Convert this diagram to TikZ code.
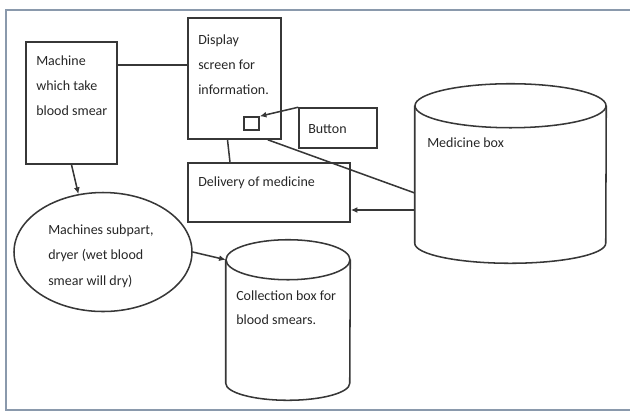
\documentclass[tikz,border=0pt]{standalone}
\usepackage{fontspec}
\setmainfont{Carlito}
\usetikzlibrary{arrows.meta,calc,fit,shapes.geometric}
\definecolor{frameblue}{RGB}{138,153,172}
\definecolor{inkline}{RGB}{55,55,55}
\begin{document}
\begin{tikzpicture}[x=0.75pt,y=-0.75pt,
  shapeline/.style={draw=inkline, line width=1.15pt},
  boxnode/.style={shapeline, rectangle, inner sep=0pt},
  hidden/.style={rectangle, inner sep=0pt},
  lbl/.style={anchor=base west, inner sep=0pt, align=left,
    font=\fontsize{10.5}{18.4}\selectfont, text=black!85},
  conn/.style={draw=inkline, line width=1.15pt},
  arr/.style={conn, -{Latex[length=5pt,width=4.5pt]}},
  frameline/.style={draw=frameblue, line width=2pt}]

\useasboundingbox (0,0) rectangle (630,412);
\draw[frameline] (634,10) -- (6,10) -- (6,410) -- (634,410);

% boxes
\node[boxnode, fit={(26,42) (117,164)}] (machine) {};
\node[boxnode, fit={(188,18) (281,139)}] (display) {};
\node[boxnode, fit={(244,117) (259,130)}] (square) {};
\node[boxnode, fit={(299,108) (377,148)}] (button) {};
\node[boxnode, fit={(188,163) (350,222)}] (delivery) {};
\node[shapeline, ellipse, inner sep=0pt, minimum width=133.5pt, minimum height=89.25pt] (dryer) at (103,252) {};

% medicine box cylinder
\node[hidden, fit={(415,106) (606,243)}] (med) {};
\draw[shapeline] (med.north) ellipse [x radius=71.625pt, y radius=16.5pt];
\draw[shapeline] (med.north west) -- (med.south west)
  arc [start angle=180, end angle=360, x radius=71.625pt, y radius=15pt]
  -- (med.north east);

% collection box cylinder
\node[hidden, fit={(226,260) (350,383)}] (coll) {};
\draw[shapeline] (coll.north) ellipse [x radius=46.5pt, y radius=15pt];
\draw[shapeline] (coll.north west) -- (coll.south west)
  arc [start angle=180, end angle=360, x radius=46.5pt, y radius=12.75pt]
  -- (coll.north east);

% labels (base anchor = baseline of the last line)
\node[lbl] (tmachine) at (36,115) {Machine\\which take\\blood smear};
\node[lbl] (tdisplay) at (198,94) {Display\\screen for\\information.};
\node[lbl] (tbutton) at (308,133) {Button};
\node[lbl] (tdelivery) at (198,186) {Delivery of medicine};
\node[lbl] (tmed) at (427,147) {Medicine box};
\node[lbl, font=\fontsize{10.5}{19.1}\selectfont] (tdryer) at (48,285) {Machines subpart,\\dryer (wet blood\\smear will dry)};
\node[lbl, font=\fontsize{10.5}{17.3}\selectfont] (tcoll) at (236,324) {Collection box for\\blood smears.};

% connectors
\draw[conn] ($(machine.north east)+(0,24)$) -- ($(display.north west)+(0,48)$);
\draw[arr] (machine.south) -- (dryer.113);
\draw[arr] (button.north west) -- (square.north east);
\draw[conn] ($(display.south)+(-7,0)$) -- ($(delivery.north)+(-39,0)$);
\draw[conn] ($(display.south east)+(-14,0)$) -- ($(med.west)+(0,18.5)$);
\draw[arr] ($(med.west)+(0,35.5)$) -- ($(delivery.east)+(0,17.5)$);
\draw[arr] (dryer.east) -- (coll.north west);
\end{tikzpicture}
\end{document}
